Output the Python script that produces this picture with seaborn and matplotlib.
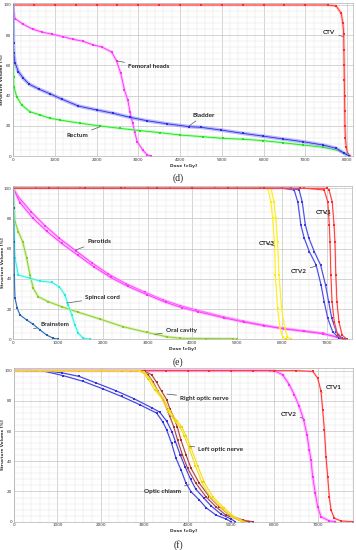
import matplotlib
matplotlib.use("Agg")
import matplotlib.pyplot as plt
import seaborn as sns
from matplotlib.ticker import MultipleLocator

# ---------------- panel (d) ----------------
d_ctv_dose = [0, 500, 1000, 1500, 2000, 2500, 3000, 3500, 4000, 4500, 5000, 5500, 6000, 6500, 7000,
              7540, 7740, 7860, 7900, 7920, 7925, 7930, 7935, 7940, 7945, 7950, 7960, 7980, 8015, 8080]
d_ctv_vol = [100, 100, 100, 100, 100, 100, 100, 100, 100, 100, 100, 100, 100, 100, 100,
             100, 99.3, 94.5, 87.9, 81, 70, 60, 50, 40, 30, 20, 12, 6, 1.3, 0]
d_fem_dose = [0, 10, 48, 232, 470, 700, 940, 1205, 1430, 1670, 1910, 2140, 2360, 2480, 2580,
              2670, 2750, 2800, 2865, 2915, 2975, 3105, 3215, 3300]
d_fem_vol = [100, 96.7, 91, 87.4, 84, 82, 80.6, 79, 77.3, 76, 73.7, 72, 68.9, 63, 54.8,
             43.7, 37, 29.3, 21.7, 15.7, 9.5, 4, 0.7, 0]
d_bla_dose = [0, 4, 8, 12, 18, 48, 128, 247, 390, 630, 886, 1165, 1565, 2005, 2400, 2800, 3200,
              3700, 4225, 4500, 4980, 5500, 5980, 6460, 6940, 7420, 7740, 7930, 8050]
d_bla_vol = [100, 89, 81, 74.6, 68, 61.8, 55.9, 51.4, 47.5, 44.2, 41.2, 37.7, 33.1, 30.5, 28.3,
             25.6, 23.4, 21.3, 19.4, 19, 17.2, 15, 13.2, 11.3, 9.5, 7.3, 5.1, 1.8, 0]
d_rec_dose = [0, 5, 10, 15, 20, 88, 208, 407, 647, 886, 1126, 1605, 2084, 2563, 3042, 3521, 4000,
              4540, 5020, 5500, 5980, 6460, 6940, 7420, 7820, 7980, 8050]
d_rec_vol = [100, 80, 65, 52.5, 45.9, 39.3, 33.8, 29.3, 27.2, 25, 23.8, 21.7, 19.9, 18.3, 16.8,
             15.5, 13.9, 12.8, 11.7, 11.1, 10.2, 8.8, 7.3, 5.8, 3.5, 1.3, 0]

# ---------------- panel (e) ----------------
e_ctv1a_dose = [0, 500, 1000, 1500, 2000, 2500, 3000, 3500, 4000, 4500, 5000, 5500, 6000, 6500,
                6940, 7020, 7055, 7070, 7090, 7115, 7165, 7240, 7350]
e_ctv1a_vol = [100, 100, 100, 100, 100, 100, 100, 100, 100, 100, 100, 100, 100, 100,
               98.9, 91, 75.7, 64.6, 42.6, 24.9, 11.7, 2.8, 0]
e_ctv1b_dose = [0, 800, 1600, 2400, 3200, 4000, 4800, 5600, 6400, 7000,
                7050, 7120, 7160, 7180, 7200, 7225, 7270, 7340, 7450]
e_ctv1b_vol = [100, 100, 100, 100, 100, 100, 100, 100, 100, 100,
               98.9, 91, 75.7, 64.6, 42.6, 24.9, 11.7, 2.8, 0]
e_ctv2a_dose = [0, 500, 1000, 1500, 2000, 2500, 3000, 3500, 4000, 4500, 5000, 5500, 6000,
                6270, 6350, 6420, 6495, 6610, 6760, 6870, 6940, 7020, 7130, 7280, 7350]
e_ctv2a_vol = [100, 100, 100, 100, 100, 100, 100, 100, 100, 100, 100, 100, 100,
               98.9, 91, 75.7, 66.9, 58, 49.2, 36, 24.9, 13.9, 5, 0.7, 0]
e_ctv2b_dose = [0, 800, 1600, 2400, 3200, 4000, 4800, 5600, 6200,
                6380, 6450, 6520, 6600, 6720, 6860, 6970, 7040, 7110, 7210, 7340, 7400]
e_ctv2b_vol = [100, 100, 100, 100, 100, 100, 100, 100, 100,
               98.9, 91, 75.7, 66.9, 58, 49.2, 36, 24.9, 13.9, 5, 0.7, 0]
e_ctv3a_dose = [0, 600, 1200, 1800, 2400, 3000, 3600, 4200, 4800, 5400, 5680,
                5750, 5790, 5830, 5850, 5900, 5955, 6010, 6090]
e_ctv3a_vol = [100, 100, 100, 100, 100, 100, 100, 100, 100, 100, 100,
               91, 80, 64.4, 42.6, 20.5, 7.3, 1.7, 0]
e_ctv3b_dose = [0, 900, 1800, 2700, 3600, 4500, 5400, 5750,
                5820, 5860, 5900, 5930, 5990, 6060, 6120, 6200]
e_ctv3b_vol = [100, 100, 100, 100, 100, 100, 100, 100,
               91, 80, 64.4, 42.6, 20.5, 7.3, 1.7, 0]
e_parA_dose = [0, 112, 395, 708, 1027, 1400, 1750, 2120, 2515, 2940, 3350, 3720, 4080, 4675,
               5120, 5570, 6010, 6460, 6905, 7200, 7350]
e_parA_vol = [100, 94.4, 84.5, 75.2, 66.9, 58.5, 50.7, 43.2, 36.8, 31.1, 26, 22.3, 19.4, 15,
              12.1, 9.5, 7.3, 5.7, 4, 1.7, 0]
e_parB_dose = [0, 150, 430, 750, 1080, 1450, 1800, 2170, 2560, 2990, 3400, 3760, 4120, 4700,
               5150, 5600, 6040, 6480, 6920, 7220, 7360]
e_parB_vol = [100, 90.5, 80.5, 71.5, 63.5, 55.5, 48, 41, 35, 29.5, 24.5, 21, 18.3, 14.2,
              11.4, 9, 6.9, 5.3, 3.7, 1.5, 0]
e_cord_dose = [0, 15, 38, 112, 373, 596, 857, 1027, 1154, 1228, 1303, 1377, 1451, 1562, 1712]
e_cord_vol = [100, 75.7, 53.6, 42.6, 40.4, 38.6, 37.7, 34.8, 29.3, 22.7, 16.1, 9.5, 4, 0.7, 0]
e_oral_dose = [0, 38, 112, 210, 299, 373, 446, 558, 781, 1080, 1451, 1935, 2455, 2977, 3424,
               3720, 4300, 4900, 5000]
e_oral_vol = [100, 77.9, 71.3, 64.6, 53.6, 42.6, 33.8, 28.2, 24.9, 21.6, 17.9, 13.4, 8.3, 4.6,
              1.7, 0.7, 0.5, 0.4, 0]
e_brain_dose = [0, 5, 15, 22, 38, 89, 150, 299, 446, 596, 745, 893, 1000]
e_brain_vol = [100, 87, 64.6, 42.6, 27.2, 20.5, 16.1, 12.8, 9.9, 6.2, 2.8, 0.7, 0]

# ---------------- panel (f) ----------------
f_chiA_dose = [0, 400, 800, 1100, 1500, 1900, 2350, 2760, 3170, 3360, 3520, 3640, 3720, 3830,
               3940, 4070, 4190, 4380, 4540, 4770, 5000, 5100]
f_chiA_vol = [100, 100, 99.6, 98.6, 96.2, 91.8, 86.7, 81.5, 75.5, 72.5, 66.5, 59.5, 53, 44.3,
              36.5, 28, 21.5, 15.5, 10.5, 5, 1.8, 0]
f_chiB_dose = [0, 300, 714, 1136, 1597, 2044, 2481, 2903, 3288, 3430, 3518, 3630, 3733, 3848,
               3963, 4078, 4270, 4424, 4654, 4885, 5000]
f_chiB_vol = [100, 100, 99.5, 96.7, 92.9, 88, 82.9, 77.4, 71.9, 66, 60.8, 52, 42, 34.3,
              25.5, 19.9, 14.4, 9.3, 4.4, 1.8, 0]
f_ronA_dose = [0, 500, 1000, 1500, 2000, 2500, 2900, 3018, 3172, 3288, 3403, 3518, 3594, 3672,
               3760, 3848, 3963, 4078, 4270, 4500, 4730, 4961, 5270, 5500]
f_ronA_vol = [100, 100, 100, 100, 100, 100, 100, 99.5, 97.3, 92.2, 86.3, 80.8, 74.6, 69.7,
              63, 54, 44.3, 35.4, 25.5, 16.6, 10, 4.4, 1.1, 0]
f_ronB_dose = [0, 900, 1800, 2700, 2940, 3090, 3210, 3320, 3440, 3520, 3590, 3680, 3770,
               3880, 4000, 4190, 4420, 4650, 4880, 5190, 5420]
f_ronB_vol = [100, 100, 100, 100, 99.5, 97.3, 92.2, 86.3, 80.8, 74.6, 69.7, 63, 54,
              44.3, 35.4, 25.5, 16.6, 10, 4.4, 1.1, 0]
f_lonA_dose = [0, 600, 1200, 1800, 2400, 2900, 3000, 3134, 3288, 3442, 3594, 3748, 3860, 3963,
               4078, 4232, 4385, 4578, 4846, 5076, 5300]
f_lonA_vol = [100, 100, 100, 100, 100, 100, 99, 94.5, 87.4, 81.9, 73, 67, 63, 57,
              49, 37, 26, 16.6, 8.9, 3.3, 0]
f_lonB_dose = [0, 1000, 2000, 2850, 2960, 3090, 3240, 3400, 3550, 3700, 3820, 3920,
               4030, 4180, 4330, 4520, 4790, 5020, 5250]
f_lonB_vol = [100, 100, 100, 100, 99, 94.5, 87.4, 81.9, 73, 67, 63, 57,
              49, 37, 26, 16.6, 8.9, 3.3, 0]
f_ctv2_dose = [0, 500, 1000, 1500, 2000, 2500, 3000, 3500, 4000, 4500, 5000, 5500, 5900,
               6037, 6190, 6344, 6459, 6574, 6674, 6751, 6804, 6843, 6882, 6943, 6997, 7074,
               7265, 7400]
f_ctv2_vol = [100, 100, 100, 100, 100, 100, 100, 100, 100, 100, 100, 100, 100,
              99.5, 97.3, 90.7, 84.1, 76.3, 67.5, 57.5, 47.6, 40.9, 29.9, 18.8, 10, 3.3,
              0.5, 0]
f_ctv1_dose = [0, 500, 1000, 1500, 2000, 2500, 3000, 3500, 4000, 4500, 5000, 5500, 6000, 6500,
               6882, 6997, 7074, 7113, 7152, 7189, 7228, 7265, 7304, 7380, 7535, 7800]
f_ctv1_vol = [100, 100, 100, 100, 100, 100, 100, 100, 100, 100, 100, 100, 100, 100,
              99.5, 95.2, 86.3, 74.1, 60.8, 43.1, 29.9, 16.6, 7.8, 2.3, 0.5, 0]

RED, RED_H = '#ff2a2a', '#ff9a9a'
MAG, MAG_H = '#ff30ff', '#ff9cff'
BLUE, BLUE_H = '#2e2ee0', '#8c8cff'
GREEN, GREEN_H = '#20e020', '#90ff90'


def curve(ax, dose, vol, color, halo, lw_halo=2.0):
    sns.lineplot(x=dose, y=vol, ax=ax, color=halo, linewidth=lw_halo, alpha=0.6,
                 sort=False, estimator=None)
    sns.lineplot(x=dose, y=vol, ax=ax, color=color, linewidth=0.6, marker='s',
                 markersize=1.8, markeredgewidth=0, sort=False, estimator=None)


def note(ax, text, xy, xytext):
    ax.annotate(text, xy=xy, xytext=xytext, fontsize=4.6, fontweight='bold',
                family=['Lato', 'DejaVu Sans'], va='center', ha='left',
                arrowprops=dict(arrowstyle='-', color='#555555', lw=0.5, shrinkA=0, shrinkB=0))


def style(ax, xmax, xticks):
    ax.set_xlim(0, xmax)
    ax.set_ylim(0, 101.5)
    ax.set_xticks(xticks)
    ax.set_yticks([0, 20, 40, 60, 80, 100])
    ax.xaxis.set_minor_locator(MultipleLocator(200))
    ax.yaxis.set_minor_locator(MultipleLocator(4))
    ax.grid(which='major', color='#c4c4c4', lw=0.5)
    ax.grid(which='minor', color='#e6e6e6', lw=0.35)
    ax.set_axisbelow(True)
    ax.tick_params(which='both', length=0, labelsize=3, pad=1.2, colors='#333333')
    for s in ax.spines.values():
        s.set_color('#b0b0b0')
        s.set_linewidth(0.5)
    ax.set_xlabel('Dose [cGy]', fontsize=3.2, labelpad=1.5, fontweight='bold', color='#333333')
    ax.set_ylabel('Structure Volume [%]', fontsize=3, fontweight='bold', color='#333333')
    ax.yaxis.set_label_coords(-0.026, 0.5)


sns.set_style('white')
fig = plt.figure(figsize=(3.56, 5.5), dpi=100)
W, H = 356, 550

# (d)
ax = fig.add_axes([13 / W, 1 - 156 / H, 340.3 / W, 153.3 / H])
curve(ax, d_ctv_dose, d_ctv_vol, RED, RED_H)
curve(ax, d_fem_dose, d_fem_vol, MAG, MAG_H)
curve(ax, d_rec_dose, d_rec_vol, GREEN, GREEN_H)
curve(ax, d_bla_dose, d_bla_vol, BLUE, BLUE_H, 2.6)
style(ax, 8150, range(0, 8001, 1000))
note(ax, 'Femoral heads', (2480, 63), (2750, 59))
note(ax, 'Rectum', (2090, 19.5), (1280, 13.5))
note(ax, 'Bladder', (4220, 20), (4300, 27))
note(ax, 'CTV', (7910, 79), (7430, 82))

# (e)
ax = fig.add_axes([13.3 / W, 1 - 339.3 / H, 338.2 / W, 153.3 / H])
curve(ax, e_parA_dose, e_parA_vol, MAG, MAG_H)
curve(ax, e_parB_dose, e_parB_vol, MAG, MAG_H)
curve(ax, e_oral_dose, e_oral_vol, '#88cc22', '#c4ea8a')
curve(ax, e_cord_dose, e_cord_vol, '#22eedd', '#9ffff5')
curve(ax, e_brain_dose, e_brain_vol, '#1e5fb0', '#8fb4e0', 1.2)
curve(ax, e_ctv3a_dose, e_ctv3a_vol, '#ffee00', '#fff79a', 1.2)
curve(ax, e_ctv3b_dose, e_ctv3b_vol, '#ffee00', '#fff79a', 1.2)
curve(ax, e_ctv2a_dose, e_ctv2a_vol, '#3a3ae8', '#9c9cf5', 1.2)
curve(ax, e_ctv2b_dose, e_ctv2b_vol, '#3a3ae8', '#9c9cf5', 1.2)
curve(ax, e_ctv1a_dose, e_ctv1a_vol, RED, RED_H, 1.2)
curve(ax, e_ctv1b_dose, e_ctv1b_vol, RED, RED_H, 1.2)
style(ax, 7550, range(0, 7001, 1000))
note(ax, 'Parotids', (1380, 59), (1650, 65))
note(ax, 'Spincal cord', (1190, 24), (1600, 27.5))
note(ax, 'Brainstem', (450, 7), (600, 10))
note(ax, 'Oral cavity', (3160, 3.3), (3400, 5.8))
note(ax, 'CTV3', (5830, 61.8), (5470, 63.4))
note(ax, 'CTV2', (6760, 48.5), (6200, 45.2))
note(ax, 'CTV1', (7070, 82), (6750, 84.2))

# (f)
ax = fig.add_axes([14 / W, 1 - 521.7 / H, 338.5 / W, 153.3 / H])
curve(ax, f_ctv2_dose, f_ctv2_vol, MAG, MAG_H, 2.4)
curve(ax, f_ctv1_dose, f_ctv1_vol, RED, RED_H, 1.4)
curve(ax, f_chiA_dose, f_chiA_vol, '#3030e0', '#9a9af5', 1.2)
curve(ax, f_chiB_dose, f_chiB_vol, '#3030e0', '#9a9af5', 1.2)
curve(ax, f_ronA_dose, f_ronA_vol, '#a83232', '#d9a0a0', 1.2)
curve(ax, f_ronB_dose, f_ronB_vol, '#a83232', '#d9a0a0', 1.2)
curve(ax, f_lonA_dose, f_lonA_vol, '#f0d800', '#fff08a', 1.2)
curve(ax, f_lonB_dose, f_lonB_vol, '#f0d800', '#fff08a', 1.2)
style(ax, 7800, range(0, 7001, 1000))
note(ax, 'Right optic nerve', (3520, 84.5), (3820, 81.8))
note(ax, 'Left optic nerve', (4040, 50), (4240, 47.5))
note(ax, 'Optic chiasm', (4040, 24.5), (3000, 20))
note(ax, 'CTV2', (6660, 68.5), (6150, 71))
note(ax, 'CTV1', (7100, 85.5), (7180, 89))

for y, lab in [(178, '(d)'), (362, '(e)'), (545, '(f)')]:
    fig.text(178 / W, 1 - y / H, lab, ha='center', va='center', fontsize=7,
             family=['Liberation Serif', 'DejaVu Serif'])

fig.savefig('out.png', dpi=100)
